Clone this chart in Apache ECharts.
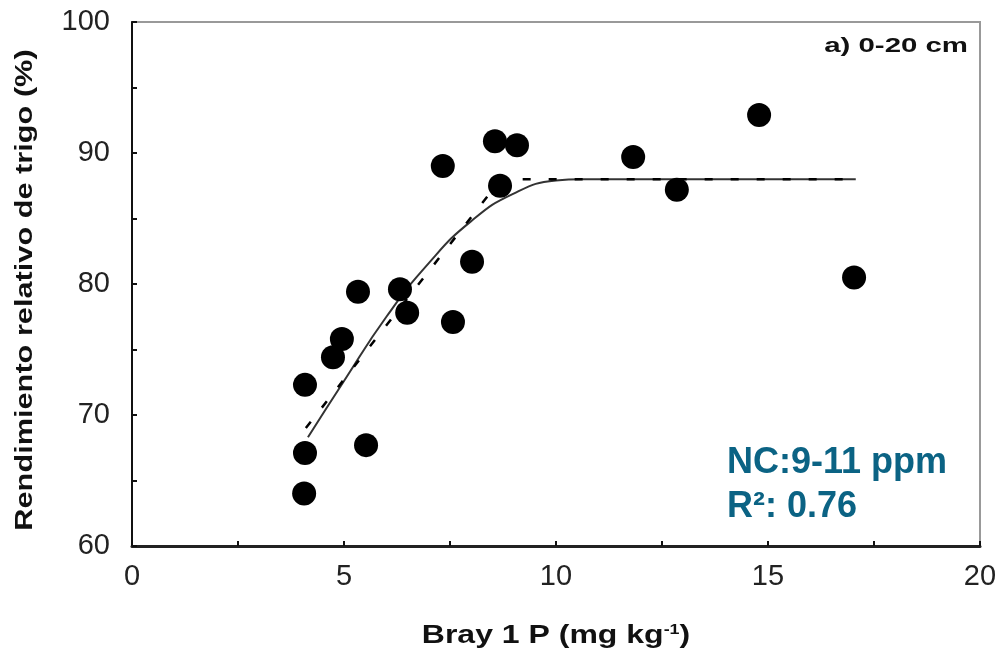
<!DOCTYPE html>
<html>
<head>
<meta charset="utf-8">
<script src="https://cdn.jsdelivr.net/npm/echarts@6/dist/echarts.min.js"></script>
<style>html,body{margin:0;padding:0;background:#fff}#c{width:1000px;height:656px}</style>
</head>
<body>
<div id="c"></div>
<script>
// Observed points: Bray 1 P (mg/kg), relative wheat yield (%)
const brayP = [4.06, 4.08, 4.08, 4.74, 4.95, 5.33, 5.52, 6.32, 6.49, 7.33, 7.57, 8.02, 8.56, 9.08, 8.68, 11.82, 12.85, 14.79, 17.03];
const relYield = [64.0, 67.1, 72.3, 74.4, 75.8, 79.4, 67.7, 79.6, 77.8, 89.0, 77.1, 81.7, 90.9, 90.6, 87.5, 89.7, 87.2, 92.9, 80.5];

// Solid fitted curve
const curveX = [4.15, 5, 6, 7, 8, 9, 10, 10.6, 17.07];
const curveY = [68.3, 72.6, 77.5, 81.6, 84.8, 86.9, 87.9, 88.0, 88.0];

// Dashed fitted line (linear-plateau)
const dashX = [4.1, 8.7, 17.07];
const dashY = [69.0, 88.0, 88.0];

const xLabels = ['0', '5', '10', '15', '20'];
const yLabels = ['60', '70', '80', '90', '100'];

const chart = echarts.init(document.getElementById('c'));
const pts = brayP.map((x, i) => [x, relYield[i]]);
const curve = curveX.map((x, i) => [x, curveY[i]]);
const dash = dashX.map((x, i) => [x, dashY[i]]);

chart.setOption({
  backgroundColor: '#fff',
  animation: false,
  grid: { left: 132, right: 20, top: 22, bottom: 110, show: true, borderColor: '#999', borderWidth: 2 },
  xAxis: {
    type: 'value', min: 0, max: 20, interval: 2.5,
    axisLine: { lineStyle: { color: '#222', width: 3 } },
    axisTick: { inside: true, length: 5, lineStyle: { color: '#111', width: 2 } },
    splitLine: { show: false },
    axisLabel: {
      margin: 16, color: '#222', fontSize: 29, fontFamily: 'Liberation Sans',
      formatter: v => (v % 5 === 0 ? xLabels[v / 5] : '')
    }
  },
  yAxis: {
    type: 'value', min: 60, max: 100, interval: 5,
    axisLine: { lineStyle: { color: '#111', width: 2 } },
    axisTick: { inside: true, length: 5, lineStyle: { color: '#111', width: 2 } },
    splitLine: { show: false },
    axisLabel: {
      margin: 22, color: '#222', fontSize: 29, fontFamily: 'Liberation Sans',
      formatter: v => (v % 10 === 0 ? yLabels[(v - 60) / 10] : '')
    }
  },
  series: [
    {
      type: 'line', data: curve, smooth: true, symbol: 'none', z: 2,
      lineStyle: { color: '#333', width: 2 }
    },
    {
      type: 'line', data: dash, symbol: 'none', z: 3,
      lineStyle: { color: '#000', width: 2.5, type: [8, 18] }
    },
    {
      type: 'scatter', data: pts, symbol: 'circle', symbolSize: 24, z: 5,
      itemStyle: { color: '#000', opacity: 1 }
    }
  ],
  graphic: [
    {
      type: 'text', x: 25, y: 290, rotation: Math.PI / 2, scaleX: 1.28, z: 10,
      style: {
        text: 'Rendimiento relativo de trigo (%)', fill: '#111',
        font: 'bold 24px "Liberation Sans"', align: 'center', verticalAlign: 'middle'
      }
    },
    {
      type: 'text', x: 556, y: 636, scaleX: 1.28, z: 10,
      style: {
        text: 'Bray 1 P (mg kg{sup|-1})', fill: '#111',
        font: 'bold 25px "Liberation Sans"', align: 'center', verticalAlign: 'middle',
        rich: { sup: { font: 'bold 14px "Liberation Sans"', fill: '#111', verticalAlign: 'top', padding: [0, 0, 12, 0] } }
      }
    },
    {
      type: 'text', x: 968, y: 46, scaleX: 1.4, z: 10,
      style: {
        text: 'a) 0-20 cm', fill: '#111',
        font: 'bold 21px "Liberation Sans"', align: 'right', verticalAlign: 'middle'
      }
    },
    {
      type: 'text', x: 727, y: 463, z: 10,
      style: {
        text: 'NC:9-11 ppm', fill: '#0b6384',
        font: 'bold 36px "Liberation Sans"', align: 'left', verticalAlign: 'middle'
      }
    },
    {
      type: 'text', x: 727, y: 507, z: 10,
      style: {
        text: 'R²: 0.76', fill: '#0b6384',
        font: 'bold 36px "Liberation Sans"', align: 'left', verticalAlign: 'middle'
      }
    }
  ]
});
</script>
</body>
</html>
